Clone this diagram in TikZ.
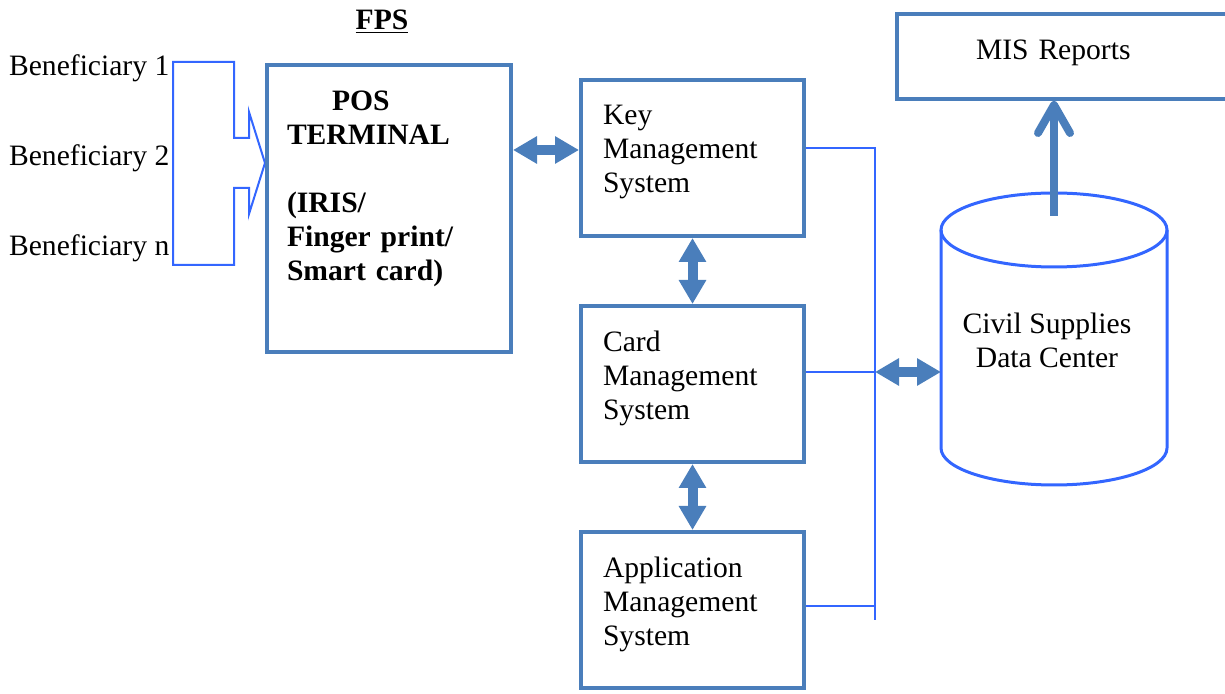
\documentclass[tikz,border=0pt]{standalone}
\usepackage{fontspec}
\setmainfont{Liberation Serif}
\usepackage{tikz}
\usetikzlibrary{arrows.meta,positioning}
\definecolor{boxblue}{RGB}{74,126,187}
\definecolor{wireblue}{RGB}{51,102,255}
\tikzset{
    sysbox/.style={
        draw=boxblue,
        line width=2pt,
        minimum width=111.5pt,
        minimum height=78pt,
        text width=89.5pt,
        text depth=43pt,
        inner xsep=11pt,
        align=left
    },
    % filled double arrows between the boxes
    blockarrow/.style={
        line width=5pt,
        boxblue,
        {Triangle[length=12pt,width=13pt]}-{Triangle[length=12pt,width=13pt]}
    },
    wire/.style={
        line width=1pt,
        wireblue
    }
}

\begin{document}
\begin{tikzpicture}[x=0.5pt,y=-0.5pt,
    every node/.style={font=\fontsize{14.8}{17}\selectfont}]
\useasboundingbox (0,0) rectangle (1225,694);

% beneficiaries and the bracket arrow into the terminal
\node[anchor=west] (ben1) at (2,68) {Beneficiary 1};
\node[anchor=west] (ben2) at (2,158) {Beneficiary 2};
\node[anchor=west] (benn) at (2,248) {Beneficiary n};
\draw[wire] (173,62) -- (234,62) -- (234,138) -- (249,138) -- (249,112)
    -- (265,163) -- (249,214) -- (249,188) -- (234,188) -- (234,265)
    -- (173,265) -- cycle;

\node (fps) at (382,22) {\textbf{\underline{FPS}}};
\node[sysbox, minimum width=122pt, minimum height=143.5pt, text width=102pt,
    text depth=, inner xsep=10pt, font=\fontsize{14.8}{17}\selectfont\bfseries] (pos) at (389,208.5)
    {\hspace*{22.5pt}POS\\TERMINAL\\[17pt](IRIS/\\Finger print/\\Smart card)\\[6pt]\mbox{}};

% management systems
\node[sysbox] (kms) at (692.5,158) {Key\\Management\\System};
\node[sysbox, below=33pt of kms] (cms) {Card\\Management\\System};
\node[sysbox, below=33pt of cms] (ams) {Application\\Management\\System};

\draw[blockarrow] (pos.east |- 0,150) -- (kms.west |- 0,150);
\draw[blockarrow] (kms.south) -- (cms.north);
\draw[blockarrow] (cms.south) -- (ams.north);

% common bus on the right
\path
    (875,620) coordinate (bus bottom)
    ([yshift=6pt]cms.east) coordinate (cms tap)
    ([yshift=2pt]ams.east) coordinate (ams tap)
    ;
\draw[wire] ([yshift=5pt]kms.east) -| (bus bottom);
\draw[wire] (cms tap) -- (cms tap -| bus bottom);
\draw[wire] (ams tap) -- (ams tap -| bus bottom);

% data center cylinder
\path
    (1054,216) coordinate (dc top)
    (941,372) coordinate (dc west)
    ;
\draw[wireblue, line width=1.5pt] (1054,230) ellipse [x radius=113, y radius=37];
\draw[wireblue, line width=1.5pt] (941,230) -- (941,448)
    arc[start angle=180, end angle=0, x radius=113, y radius=37] -- (1167,230);
\node[align=center] (dc) at (1047,340) {Civil Supplies\\Data Center};

\draw[blockarrow] (cms tap -| bus bottom) -- (dc west);

\node[draw=boxblue, line width=2pt, minimum width=168pt, minimum height=42.5pt,
    text width=89pt, text depth=7pt, inner xsep=39.5pt, align=left] (mis) at (1065,56.5) {MIS Reports};
\draw[boxblue, line width=4pt, -{Straight Barb[round,length=14pt,width=16pt]}]
    (dc top) -- (dc top |- mis.south);

\end{tikzpicture}
\end{document}
